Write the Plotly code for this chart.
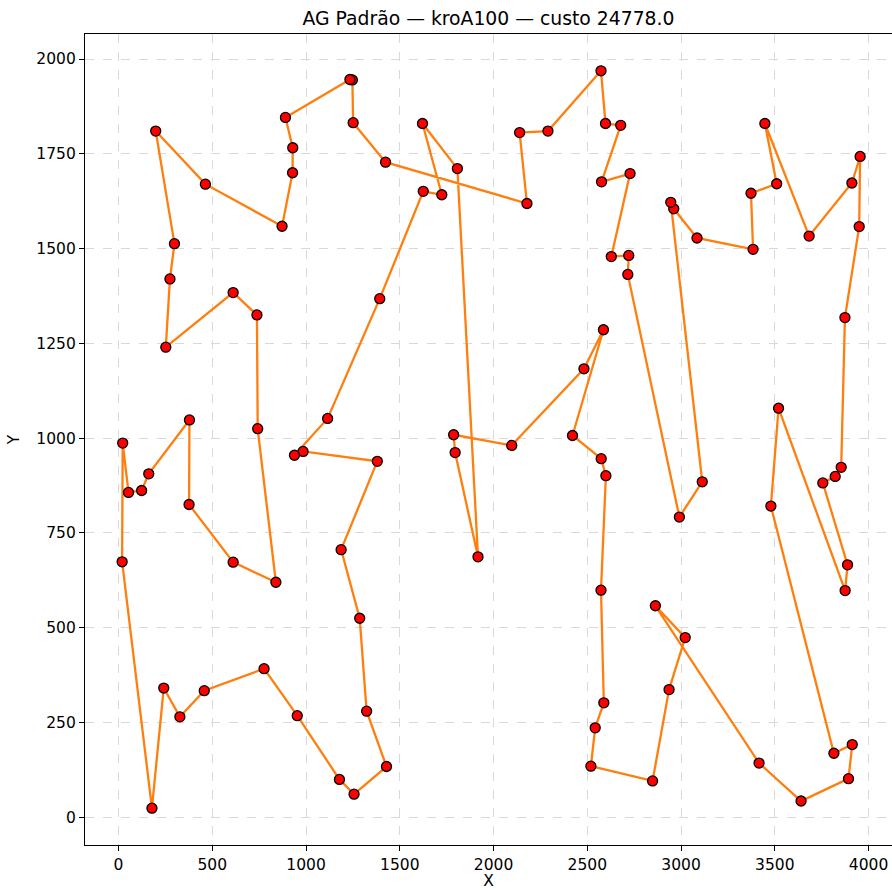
import plotly.graph_objects as go

# Tour order (kroA100 cities as visited by the route)
tour_x = [890, 929, 928, 872, 463, 198, 298, 274, 252, 611, 738, 742, 839, 611, 376, 378, 161, 123, 53, 22,
          19, 178, 241, 327, 457, 776, 953, 1178, 1256, 1429, 1323, 1286, 1187, 1380, 984, 938, 1115, 1393, 1625, 1724,
          1621, 1807, 1917, 1795, 1787, 2097, 2482, 2586, 2421, 2574, 2599, 2573, 2588, 2542, 2519, 2848, 2936, 3022, 2863, 3416,
          3640, 3893, 3913, 3815, 3479, 3520, 3875, 3888, 3756, 3822, 3854, 3874, 3950, 3955, 3911, 3683, 3447, 3510, 3373, 3384,
          3085, 2961, 2945, 3113, 2991, 2716, 2721, 2628, 2728, 2576, 2678, 2597, 2573, 2290, 2139, 2178, 1424, 1251, 1247, 1234]
tour_y = [1846, 1766, 1700, 1559, 1670, 1810, 1513, 1420, 1240, 1384, 1325, 1025, 620, 673, 825, 1048, 906, 862, 857, 987,
          674, 24, 341, 265, 334, 392, 268, 100, 61, 134, 280, 525, 706, 939, 965, 955, 1052, 1368, 1651, 1642,
          1830, 1711, 687, 962, 1009, 981, 1183, 1286, 1007, 946, 901, 599, 302, 236, 135, 96, 337, 474, 558, 143,
          43, 102, 192, 169, 821, 1079, 598, 666, 882, 899, 923, 1318, 1558, 1743, 1673, 1533, 1830, 1671, 1646, 1498,
          1528, 1605, 1622, 885, 792, 1432, 1482, 1479, 1698, 1676, 1825, 1830, 1969, 1810, 1806, 1619, 1728, 1832, 1945, 1946]

title_text = "AG Padrão — kroA100 — custo 24778.0"
x_ticks = [0, 500, 1000, 1500, 2000, 2500, 3000, 3500, 4000]
y_ticks = [0, 250, 500, 750, 1000, 1250, 1500, 1750, 2000]

line_x = tour_x + [tour_x[0]]
line_y = tour_y + [tour_y[0]]

fig = go.Figure()
fig.add_trace(go.Scatter(x=line_x, y=line_y, mode="lines",
                         line=dict(color="#ff7f0e", width=2.3), hoverinfo="skip", showlegend=False))
fig.add_trace(go.Scatter(x=tour_x, y=tour_y, mode="markers",
                         marker=dict(color="red", size=10, line=dict(color="black", width=1.3)),
                         showlegend=False))

font_family = "DejaVu Sans"
fig.update_layout(
    width=892, height=890,
    margin=dict(l=85, r=0, t=34, b=45),
    paper_bgcolor="white", plot_bgcolor="white",
    font=dict(family=font_family, size=15.5, color="black"),
    title=dict(text=title_text, x=0.5, xref="paper", xanchor="center",
               y=1 - 18 / 890, yref="container", yanchor="middle",
               font=dict(size=18.8, family=font_family, color="black")),
)
fig.update_xaxes(
    range=[-179, 4125], tickvals=x_ticks, ticktext=[str(v) for v in x_ticks],
    showline=True, linecolor="black", linewidth=1.2, mirror=True,
    ticks="outside", ticklen=5, tickcolor="black", tickwidth=1,
    showgrid=True, gridcolor="#d9d9d9", griddash="dash", gridwidth=1,
    zeroline=False, tickfont=dict(size=15.5),
    title=dict(text="X", standoff=8, font=dict(size=15.5)), automargin=False,
)
fig.update_yaxes(
    range=[-73, 2066], tickvals=y_ticks, ticktext=[str(v) for v in y_ticks],
    showline=True, linecolor="black", linewidth=1.2, mirror=False,
    ticks="outside", ticklen=5, tickcolor="black", tickwidth=1,
    showgrid=True, gridcolor="#d9d9d9", griddash="dash", gridwidth=1,
    zeroline=False, tickfont=dict(size=15.5),
    title=dict(text="Y", standoff=12, font=dict(size=15.5)), automargin=False,
)

fig.write_html("out.html", config={"displayModeBar": False},
               post_script="document.body.style.margin='0px';document.body.style.overflow='hidden';")
